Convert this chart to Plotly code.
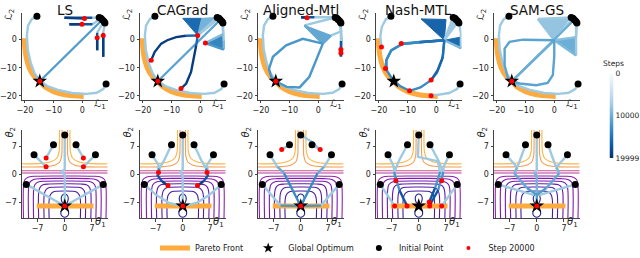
import plotly.graph_objects as go
from plotly.colors import sample_colorscale

# ---------------- data ----------------
METHODS = ["LS", "CAGrad", "Aligned-Mtl", "Nash-MTL", "SAM-GS"]
STEP_MAX = 19999
STEP_TICKS = [0, 10000, 19999]
BLUES = ['rgb(247,251,255)', 'rgb(222,235,247)', 'rgb(198,219,239)', 'rgb(158,202,225)',
         'rgb(107,174,214)', 'rgb(66,146,198)', 'rgb(33,113,181)', 'rgb(8,81,156)', 'rgb(8,48,107)']
PLASMA = ['#0d0887', '#46039f', '#7201a8', '#9c179e', '#bd3786', '#d8576b',
          '#ed7953', '#fb9f3a', '#fdca26', '#f0f921']

LOSS_TICKS = [-20, -10, 0]
PARAM_TICKS = [-7, 0, 7]
LOSS_RANGE_X = [-21.0, 8.8]
LOSS_RANGE_Y = [-21.3, 9.5]
PARAM_RANGE = [-11.0, 11.0]

PARETO_L1 = [-20.2, -20.0, -19.5, -18.5, -16.8, -14.8, -13.0, -10.0, -6.5, -3.0, 0.5]
PARETO_L2 = [0.5, -3.0, -6.5, -10.0, -13.0, -14.8, -16.8, -18.5, -19.5, -20.0, -20.2]
PARETO_T1 = [-7.2, 7.4]
PARETO_T2 = [-8.0, -8.0]
OPT_L1, OPT_L2 = [-14.8], [-14.8]
OPT_T1, OPT_T2 = [0.0], [-8.0]
INIT_L1 = [-15.8, 8.3, 5.9, 6.5, 7.0, 7.6, 7.9]
INIT_L2 = [8.3, -15.8, 7.9, 7.6, 7.1, 6.5, 5.9]
INIT_T1 = [0.0, -2.9, 2.9, -7.9, 7.9, -9.9, 9.9]
INIT_T2 = [9.75, 7.3, 7.3, 4.8, 4.8, -2.6, -2.6]

# contour lines of the parameter-space landscape: (theta1 list, theta2 list, level 0..1)
CONTOURS = [
    ([-10.6, -10.6, -10.3, -9.4, -7.0, 0, 7.0, 9.4, 10.3, 10.6, 10.6],
     [-11.5, -3.0, -1.5, -0.8, -0.55, -0.5, -0.55, -0.8, -1.5, -3.0, -11.5], 0.27),
    ([-9.3, -9.3, -9.0, -8.0, -6.0, 0, 6.0, 8.0, 9.0, 9.3, 9.3],
     [-11.5, -3.5, -2.1, -1.4, -1.15, -1.1, -1.15, -1.4, -2.1, -3.5, -11.5], 0.23),
    ([-8.0, -8.0, -7.7, -6.8, -5.0, 0, 5.0, 6.8, 7.7, 8.0, 8.0],
     [-11.5, -4.0, -2.7, -2.0, -1.8, -1.75, -1.8, -2.0, -2.7, -4.0, -11.5], 0.19),
    ([-6.7, -6.7, -6.4, -5.6, -4.0, 0, 4.0, 5.6, 6.4, 6.7, 6.7],
     [-11.5, -4.6, -3.4, -2.7, -2.5, -2.45, -2.5, -2.7, -3.4, -4.6, -11.5], 0.15),
    ([-5.3, -5.3, -5.0, -4.3, -3.0, 0, 3.0, 4.3, 5.0, 5.3, 5.3],
     [-11.5, -5.3, -4.2, -3.5, -3.3, -3.25, -3.3, -3.5, -4.2, -5.3, -11.5], 0.11),
    ([-4.0, -4.0, -3.7, -3.0, -2.0, 0, 2.0, 3.0, 3.7, 4.0, 4.0],
     [-11.5, -6.3, -5.2, -4.5, -4.3, -4.25, -4.3, -4.5, -5.2, -6.3, -11.5], 0.07),
    ([0, 0.7, 0.9, 0.6, 0, -0.6, -0.9, -0.7, 0, 0.8, 1.0, 0.6, 0, -0.6, -1.0, -0.8, 0],
     [-8, -7.0, -6.0, -5.3, -5.0, -5.3, -6.0, -7.0, -8, -9.0, -10.0, -10.6, -10.8, -10.6, -10.0, -9.0, -8], 0.0),
    ([-11.5, 11.5], [0.25, 0.25], 0.38),
    ([-11.5, 11.5], [0.8, 0.8], 0.48),
    ([-11.5, -5.0, -2.6, -1.3, -0.8, -0.7, -0.7], [1.75, 1.85, 2.2, 3.0, 4.5, 6.5, 11.5], 0.74),
    ([-11.5, -6.0, -3.4, -2.0, -1.45, -1.35, -1.35], [2.55, 2.65, 3.1, 4.0, 5.6, 7.5, 11.5], 0.82),
    ([11.5, 5.0, 2.6, 1.3, 0.8, 0.7, 0.7], [1.75, 1.85, 2.2, 3.0, 4.5, 6.5, 11.5], 0.74),
    ([11.5, 6.0, 3.4, 2.0, 1.45, 1.35, 1.35], [2.55, 2.65, 3.1, 4.0, 5.6, 7.5, 11.5], 0.82),
]

# trajectories: lists of (x, y, step)
ARC_TOPLEFT = [(-15.8, 8.3, 7500), (-17.6, 7.3, 7500), (-18.9, 5.0, 7500), (-19.3, 1.5, 7500),
               (-19.0, -3.5, 7500), (-17.9, -8.5, 7500), (-16.5, -12.2, 8000), (-14.8, -14.8, 8000)]
ARC_BOTTOMRIGHT = [(8.3, -15.8, 7500), (7.3, -17.6, 7500), (5.0, -18.9, 7500), (1.5, -19.3, 7500),
                   (-3.5, -19.0, 7500), (-8.5, -17.9, 7500), (-12.2, -16.5, 8000), (-14.8, -14.8, 8000)]

LS_LOSS_TRAJ = [
    ARC_TOPLEFT, ARC_BOTTOMRIGHT,
    [(7.0, 7.1, 11500), (-14.8, -14.8, 11500)],
    [(5.9, 7.9, 7500), (3.5, 7.8, 17000), (-6.2, 7.8, 19000), (0.8, 7.5, 19999)],
    [(6.5, 7.6, 7500), (3.6, 5.5, 17000), (-4.5, 5.5, 19000), (-0.1, 5.5, 19999)],
    [(7.6, 6.5, 7500), (5.2, 2.5, 17000), (5.2, -3.8, 19000), (5.2, 0.7, 19999)],
    [(7.9, 5.9, 7500), (7.3, 2.5, 17000), (7.3, -6.1, 19000), (7.3, 1.5, 19999)],
]
LS_LOSS_FANS = []
LS_LOSS_RED_L1 = [0.8, -0.1, 5.2, 7.3, -14.8]
LS_LOSS_RED_L2 = [7.5, 5.5, 0.7, 1.5, -14.8]
LS_PARAM_TRAJ = [
    [(0.0, 9.75, 7500), (0.0, 1.2, 7500), (-0.9, 0.5, 7500), (0.0, -0.2, 7500), (0.0, -8.0, 7500)],
    [(-2.9, 7.3, 7500), (-4.8, 4.0, 7500)],
    [(2.9, 7.3, 7500), (4.8, 4.0, 7500)],
    [(-7.9, 4.8, 7500), (-4.8, 1.8, 7500)],
    [(7.9, 4.8, 7500), (4.8, 1.8, 7500)],
    [(-9.9, -2.6, 7500), (0.0, -8.0, 7500)],
    [(9.9, -2.6, 7500), (0.0, -8.0, 7500)],
]
LS_PARAM_RED_T1 = [-4.8, 4.8, -4.8, 4.8, 0.0]
LS_PARAM_RED_T2 = [4.0, 4.0, 1.8, 1.8, -8.0]

CAGRAD_LOSS_TRAJ = [
    ARC_TOPLEFT, ARC_BOTTOMRIGHT,
    [(7.0, 7.1, 11000), (-14.8, -14.8, 11000)],
    [(5.9, 7.9, 7500), (-0.9, 1.5, 15500), (-5.0, 1.4, 19000), (-8.4, 0.9, 19000), (-11.5, -0.2, 19000),
     (-13.6, -1.4, 19000), (-15.9, -4.4, 19000), (-17.1, -7.3, 19999)],
    [(6.5, 7.6, 7500), (-0.9, 1.5, 15500), (-1.4, -2.0, 19000), (-2.0, -5.0, 19000), (-3.2, -11.5, 19000),
     (-4.9, -15.6, 19000), (-6.7, -17.4, 19999)],
    [(7.6, 6.5, 7500), (8.0, 2.0, 9000), (1.8, -1.2, 15500)],
    [(7.9, 5.9, 7500), (8.2, -0.5, 9000), (8.2, -3.5, 12000), (1.8, -1.2, 15500)],
]
CAGRAD_LOSS_FANS = [
    ([-6.1, 0.5, -0.9], [7.6, 7.6, 1.5], 15500),
    ([0.5, 6.0, -0.9], [7.6, 7.9, 1.5], 9500),
    ([1.8, 7.9, 7.9], [-1.2, 1.5, -3.5], 13500),
]
CAGRAD_LOSS_RED_L1 = [-0.9, 1.8, -17.1, -6.7, -14.8]
CAGRAD_LOSS_RED_L2 = [1.5, -1.2, -7.3, -17.4, -14.8]
CAGRAD_PARAM_TRAJ = [
    [(0.0, 9.75, 7500), (0.0, 1.2, 7500), (-0.7, 0.4, 7500), (0.0, -0.3, 7500), (0.0, -8.0, 7500)],
    [(-2.9, 7.3, 7500), (-4.8, 3.4, 7500), (-6.0, 1.4, 13000), (-6.25, 0.4, 19000)],
    [(2.9, 7.3, 7500), (4.8, 3.4, 7500), (6.0, 1.4, 13000), (6.25, 0.4, 19000)],
    [(-7.9, 4.8, 7500), (-6.2, 2.2, 7500), (-6.6, -0.2, 17000), (-5.3, -1.9, 19000), (-3.8, -2.9, 19999)],
    [(7.9, 4.8, 7500), (6.2, 2.2, 7500), (6.6, -0.2, 17000), (5.3, -1.9, 19000), (3.8, -2.9, 19999)],
    [(-9.9, -2.6, 7500), (-6.9, -5.2, 7500), (-3.6, -7.2, 7500), (0.0, -8.0, 7500)],
    [(9.9, -2.6, 7500), (6.9, -5.2, 7500), (3.6, -7.2, 7500), (0.0, -8.0, 7500)],
]
CAGRAD_PARAM_RED_T1 = [-6.25, 6.25, -3.8, 3.8, 0.0]
CAGRAD_PARAM_RED_T2 = [0.4, 0.4, -2.9, -2.9, -8.0]

ALIGNED_LOSS_TRAJ = [
    ARC_TOPLEFT, ARC_BOTTOMRIGHT,
    [(6.5, 7.6, 7500), (5.0, 8.0, 7500), (-1.3, 8.0, 17000), (-6.0, 8.0, 19000), (-3.9, 7.8, 19999)],
    [(7.9, 5.9, 7500), (7.9, -0.5, 17000), (7.9, -6.0, 19000), (7.9, -3.5, 19999)],
    [(7.6, 6.5, 7500), (8.2, 0.5, 7500), (8.2, -5.0, 17000), (7.9, -4.7, 19999)],
    [(5.9, 7.9, 7500), (-4.8, 5.1, 10500), (1.6, -1.4, 12000), (-5.4, 0.3, 12000), (-11.2, -2.0, 12000),
     (-15.8, -6.1, 12000), (-17.2, -10.5, 12000), (-16.3, -13.5, 12000), (-14.8, -14.8, 12000)],
    [(7.0, 7.1, 7500), (8.0, 3.0, 7500), (4.5, 1.5, 10500), (1.6, -1.4, 12000), (-0.2, -6.1, 12000),
     (-3.1, -13.2, 12000), (-6.5, -17.0, 12000), (-11.0, -16.8, 12000), (-14.8, -14.8, 12000)],
]
ALIGNED_LOSS_FANS = [([-4.8, 4.5, 1.6], [5.1, 1.5, -1.4], 10500)]
ALIGNED_LOSS_RED_L1 = [-3.9, 7.9, 7.9, -14.8]
ALIGNED_LOSS_RED_L2 = [7.8, -3.5, -4.7, -14.8]
ALIGNED_PARAM_TRAJ = [
    [(0.0, 9.75, 7500), (2.6, 8.2, 7500), (5.0, 6.1, 7500)],
    [(-2.9, 7.3, 7500), (-4.9, 6.1, 7500)],
    [(2.9, 7.3, 7500), (5.0, 6.1, 7500)],
    [(-7.9, 4.8, 7500), (-6.0, 1.8, 10000), (-4.3, 0.2, 13000), (0.0, -8.0, 13000)],
    [(7.9, 4.8, 7500), (6.0, 1.8, 10000), (4.3, 0.2, 13000), (0.0, -8.0, 13000)],
    [(-9.9, -2.6, 7500), (-5.2, -7.9, 12000), (0.0, -8.0, 12000)],
    [(9.9, -2.6, 7500), (5.2, -7.9, 12000), (0.0, -8.0, 12000)],
]
ALIGNED_PARAM_RED_T1 = [-4.9, 5.0, 0.0]
ALIGNED_PARAM_RED_T2 = [6.1, 6.1, -8.0]

NASH_LOSS_TRAJ = [
    [(-15.8, 8.3, 7500), (-17.6, 7.2, 7500), (-19.0, 4.5, 7500), (-19.5, 1.0, 7500), (-19.1, -2.6, 7500)],
    [(8.3, -15.8, 7500), (7.2, -17.6, 7500), (4.5, -19.0, 7500), (1.0, -19.5, 7500), (-1.8, -20.0, 7500)],
    [(7.9, 5.9, 7500), (8.6, 2.5, 7500), (8.6, -3.0, 9000), (2.8, -0.2, 13000), (2.3, -6.1, 16000),
     (0.5, -10.9, 16000), (-1.8, -14.4, 16000)],
    [(7.6, 6.5, 7500), (2.8, -0.2, 15000), (2.2, -6.6, 13000), (0.2, -11.8, 13000), (-1.8, -14.4, 13000),
     (-5.5, -17.0, 13000), (-9.3, -18.2, 13000)],
    [(5.9, 7.9, 7500), (2.8, -0.2, 15000), (-5.8, -0.8, 13000), (-12.2, -1.4, 13000)],
    [(6.5, 7.6, 7500), (2.8, -0.2, 15000), (-5.8, -0.9, 13000), (-12.0, -1.6, 13000), (-15.7, -3.8, 13000),
     (-17.4, -7.3, 13000), (-17.7, -10.3, 13000)],
    [(7.0, 7.1, 7500), (2.8, -0.2, 15000), (-5.8, -0.9, 13000), (-12.0, -1.6, 13000), (-15.7, -3.8, 13000),
     (-17.4, -7.3, 13000), (-17.2, -11.0, 13000), (-15.2, -14.2, 13000), (-12.5, -16.6, 13000), (-9.3, -18.2, 13000)],
]
NASH_LOSS_FANS = [
    ([-5.3, 3.4, 2.8], [7.4, 7.2, -0.2], 16000),
    ([2.8, 8.4, 8.6], [-0.2, 0.9, -3.2], 15500),
]
NASH_LOSS_RED_L1 = [-19.1, -1.8, -12.2, -17.7, -1.8, -9.3]
NASH_LOSS_RED_L2 = [-2.6, -20.0, -1.4, -10.3, -14.4, -18.2]
NASH_PARAM_TRAJ = [
    [(0.0, 9.75, 7500), (-0.2, 4.3, 7500), (4.9, 3.2, 7500), (5.5, 0.5, 12000), (4.2, -3.5, 17000), (2.7, -7.0, 19000)],
    [(-2.9, 7.3, 7500), (-5.0, 3.5, 7500), (-6.3, 0.5, 12000), (-5.9, -1.7, 15000)],
    [(2.9, 7.3, 7500), (5.0, 3.5, 7500), (6.3, 0.5, 12000), (5.9, -1.7, 15000)],
    [(-7.9, 4.8, 7500), (-6.5, 2.0, 7500), (-6.0, -0.5, 12000), (-5.0, -4.0, 17000), (-3.5, -7.0, 19000), (-3.0, -8.0, 19000)],
    [(7.9, 4.8, 7500), (6.5, 2.0, 7500), (6.0, -0.5, 12000), (5.0, -4.0, 17000), (3.3, -7.0, 19000), (2.8, -8.0, 19000)],
    [(-9.9, -2.6, 7500), (-6.2, -8.0, 7500)],
    [(9.9, -2.6, 7500), (5.9, -8.0, 7500)],
]
NASH_PARAM_RED_T1 = [-5.9, 5.9, -6.2, -3.0, 2.8, 5.9, 2.7]
NASH_PARAM_RED_T2 = [-1.7, -1.7, -8.0, -8.0, -8.0, -8.0, -7.0]

SAM_LOSS_TRAJ = [
    ARC_TOPLEFT, ARC_BOTTOMRIGHT,
    [(7.0, 7.1, 10000), (-14.8, -14.8, 10000)],
    [(6.5, 7.6, 7500), (0.0, -0.2, 10000), (-14.8, -14.8, 10000)],
    [(5.9, 7.9, 7500), (-5.7, 7.4, 8000), (0.0, -0.2, 11000), (-10.9, 0.0, 11000), (-15.6, -0.8, 11000),
     (-17.3, -3.2, 11000), (-17.3, -9.1, 11000), (-16.1, -13.8, 11000), (-14.8, -14.8, 11000)],
    [(7.9, 5.9, 7500), (7.6, 0.9, 8500), (0.0, -0.2, 11000), (0.0, -6.1, 11000), (-0.5, -12.6, 11000),
     (-2.3, -15.4, 11000), (-6.3, -16.2, 11000), (-12.1, -15.6, 11000), (-14.8, -14.8, 11000)],
    [(7.6, 6.5, 7500), (7.6, -5.6, 9000), (0.0, -0.2, 10000), (-14.8, -14.8, 10000)],
]
SAM_LOSS_FANS = [
    ([-5.7, 5.3, 0.0], [7.4, 7.4, -0.2], 8000),
    ([0.0, 7.6, 7.6], [-0.2, 0.9, -5.6], 10000),
]
SAM_LOSS_RED_L1 = [-14.8]
SAM_LOSS_RED_L2 = [-14.8]
SAM_PARAM_TRAJ = [
    [(0.0, 9.75, 7500), (0.0, 1.0, 7500), (-0.7, 0.3, 9500), (0.0, -0.4, 9500), (0.0, -5.2, 11500), (0.0, -8.0, 12000)],
    [(-2.9, 7.3, 7500), (-4.6, 2.7, 7500), (-5.8, 0.2, 10500), (-2.5, -3.5, 11500), (0.0, -5.2, 12000)],
    [(2.9, 7.3, 7500), (4.6, 2.7, 7500), (5.8, 0.2, 10500), (2.5, -3.5, 11500), (0.0, -5.2, 12000)],
    [(-7.9, 4.8, 7500), (-5.0, 1.6, 9000), (-5.8, 0.2, 10500)],
    [(7.9, 4.8, 7500), (5.0, 1.6, 9000), (5.8, 0.2, 10500)],
    [(-9.9, -2.6, 7500), (-0.6, -5.3, 9000)],
    [(9.9, -2.6, 7500), (0.6, -5.3, 9000)],
]
SAM_PARAM_RED_T1 = [0.0]
SAM_PARAM_RED_T2 = [-8.0]

LOSS_TRAJ = [LS_LOSS_TRAJ, CAGRAD_LOSS_TRAJ, ALIGNED_LOSS_TRAJ, NASH_LOSS_TRAJ, SAM_LOSS_TRAJ]
LOSS_FANS = [LS_LOSS_FANS, CAGRAD_LOSS_FANS, ALIGNED_LOSS_FANS, NASH_LOSS_FANS, SAM_LOSS_FANS]
LOSS_RED = [(LS_LOSS_RED_L1, LS_LOSS_RED_L2), (CAGRAD_LOSS_RED_L1, CAGRAD_LOSS_RED_L2),
            (ALIGNED_LOSS_RED_L1, ALIGNED_LOSS_RED_L2), (NASH_LOSS_RED_L1, NASH_LOSS_RED_L2),
            (SAM_LOSS_RED_L1, SAM_LOSS_RED_L2)]
PARAM_TRAJ = [LS_PARAM_TRAJ, CAGRAD_PARAM_TRAJ, ALIGNED_PARAM_TRAJ, NASH_PARAM_TRAJ, SAM_PARAM_TRAJ]
PARAM_RED = [(LS_PARAM_RED_T1, LS_PARAM_RED_T2), (CAGRAD_PARAM_RED_T1, CAGRAD_PARAM_RED_T2),
             (ALIGNED_PARAM_RED_T1, ALIGNED_PARAM_RED_T2), (NASH_PARAM_RED_T1, NASH_PARAM_RED_T2),
             (SAM_PARAM_RED_T1, SAM_PARAM_RED_T2)]

# ---------------- style / layout ----------------
W, H = 640, 258
FONT = "DejaVu Sans"
ORANGE = '#fdaa3f'
AXC = '#444444'
COLS_PX = [(22, 107.5), (140, 225.5), (258, 343.5), (376, 461.5), (494, 579.5)]
ROWS_PX = [(13, 99.5), (130, 218)]


def step_color(s):
    return sample_colorscale(BLUES, [s / STEP_MAX])[0]


def level_color(v):
    return sample_colorscale(PLASMA, [v])[0]


def ref(n, kind):
    return kind if n == 1 else f"{kind}{n}"


fig = go.Figure()


def add_traj(trajs, xa, ya):
    runs = {}
    for tr in trajs:
        i = 0
        while i < len(tr) - 1:
            s = tr[i][2]
            xs, ys = [tr[i][0]], [tr[i][1]]
            j = i
            while j < len(tr) - 1 and tr[j][2] == s:
                xs.append(tr[j + 1][0]); ys.append(tr[j + 1][1]); j += 1
            g = runs.setdefault(s, ([], []))
            g[0].extend(xs + [None]); g[1].extend(ys + [None])
            i = j
    for s in sorted(runs):
        xs, ys = runs[s]
        fig.add_trace(go.Scatter(x=xs, y=ys, mode='lines', xaxis=xa, yaxis=ya,
                                 line=dict(color=step_color(s), width=2.4),
                                 hoverinfo='skip', showlegend=False))


def add_markers(xs, ys, xa, ya, symbol, size, color):
    fig.add_trace(go.Scatter(x=xs, y=ys, mode='markers', xaxis=xa, yaxis=ya,
                             marker=dict(symbol=symbol, size=size, color=color, line=dict(width=0)),
                             hoverinfo='skip', showlegend=False, cliponaxis=False))


layout = dict(width=W, height=H, margin=dict(l=0, r=0, t=0, b=0, autoexpand=False),
              paper_bgcolor='white', plot_bgcolor='white',
              font=dict(family=FONT, size=9, color='#222'), annotations=[])

for r in range(2):
    for c in range(5):
        n = r * 5 + c + 1
        xa, ya = ref(n, 'x'), ref(n, 'y')
        x0, x1 = COLS_PX[c]
        yt, yb = ROWS_PX[r]
        ax_common = dict(showgrid=False, zeroline=False, showline=True, linecolor=AXC, linewidth=1,
                         ticks='outside', ticklen=2.5, tickwidth=1, tickcolor=AXC,
                         tickfont=dict(size=8, family=FONT, color='#222'), fixedrange=True)
        if r == 0:
            xr, yr, xt, yt_ = LOSS_RANGE_X, LOSS_RANGE_Y, LOSS_TICKS, LOSS_TICKS
        else:
            xr, yr, xt, yt_ = PARAM_RANGE, PARAM_RANGE, PARAM_TICKS, PARAM_TICKS
        layout['xaxis' if n == 1 else f'xaxis{n}'] = dict(ax_common, domain=[x0 / W, x1 / W], range=xr,
                                                          tickvals=xt, anchor=ya)
        layout['yaxis' if n == 1 else f'yaxis{n}'] = dict(ax_common, domain=[1 - yb / H, 1 - yt / H], range=yr,
                                                          tickvals=yt_, anchor=xa)
        wpx = x1 - x0
        hpx = yb - yt
        xlab = "ℒ<sub>1</sub>" if r == 0 else "<i>θ</i><sub>1</sub>"
        ylab = "ℒ<sub>2</sub>" if r == 0 else "<i>θ</i><sub>2</sub>"
        layout['annotations'].append(dict(text=xlab, xref=f'{xa} domain', yref=f'{ya} domain',
                                          x=1.0, y=-4.5 / hpx, xanchor='right', yanchor='middle',
                                          showarrow=False, font=dict(size=10, family=FONT, color='#222')))
        layout['annotations'].append(dict(text=ylab, xref=f'{xa} domain', yref=f'{ya} domain',
                                          x=-12.5 / wpx, y=1 - 2.0 / hpx, xanchor='center', yanchor='middle',
                                          textangle=-90, showarrow=False,
                                          font=dict(size=10, family=FONT, color='#222')))
        if r == 0:
            layout['annotations'].append(dict(text=METHODS[c], xref=f'{xa} domain', yref='paper',
                                              x=0.5, y=1 - 10.5 / H, xanchor='center', yanchor='middle',
                                              showarrow=False, font=dict(size=13.5, family=FONT, color='#111')))

        if r == 0:
            fig.add_trace(go.Scatter(x=PARETO_L1, y=PARETO_L2, mode='lines', xaxis=xa, yaxis=ya,
                                     line=dict(color=ORANGE, width=5, shape='spline'),
                                     hoverinfo='skip', showlegend=False))
            for fx, fy, s in LOSS_FANS[c]:
                fig.add_trace(go.Scatter(x=fx + [fx[0]], y=fy + [fy[0]], mode='lines', fill='toself',
                                         fillcolor=step_color(s), xaxis=xa, yaxis=ya,
                                         line=dict(color=step_color(s), width=1),
                                         hoverinfo='skip', showlegend=False))
            add_traj(LOSS_TRAJ[c], xa, ya)
            add_markers(INIT_L1, INIT_L2, xa, ya, 'circle', 7, 'black')
            add_markers(OPT_L1, OPT_L2, xa, ya, 'star', 11, 'black')
            add_markers(LOSS_RED[c][0], LOSS_RED[c][1], xa, ya, 'circle', 5, 'red')
        else:
            for cx, cy, lv in CONTOURS:
                fig.add_trace(go.Scatter(x=cx, y=cy, mode='lines', xaxis=xa, yaxis=ya,
                                         line=dict(color=level_color(lv), width=1.1, shape='spline'),
                                         opacity=0.9, hoverinfo='skip', showlegend=False))
            fig.add_trace(go.Scatter(x=PARETO_T1, y=PARETO_T2, mode='lines', xaxis=xa, yaxis=ya,
                                     line=dict(color=ORANGE, width=5), hoverinfo='skip', showlegend=False))
            add_traj(PARAM_TRAJ[c], xa, ya)
            add_markers(INIT_T1, INIT_T2, xa, ya, 'circle', 7, 'black')
            add_markers(OPT_T1, OPT_T2, xa, ya, 'star', 11, 'black')
            add_markers(PARAM_RED[c][0], PARAM_RED[c][1], xa, ya, 'circle', 5, 'red')

# colour bar (steps) drawn as a small heatmap axis, 0 on top
fig.add_trace(go.Heatmap(z=[[0, 0], [STEP_MAX, STEP_MAX]], x=[0, 1], y=[0, STEP_MAX],
                         colorscale=[[i / (len(BLUES) - 1), col] for i, col in enumerate(BLUES)],
                         zmin=0, zmax=STEP_MAX, zsmooth='best', showscale=False,
                         xaxis='x11', yaxis='y11', hoverinfo='skip'))
layout['xaxis11'] = dict(domain=[609.5 / W, 613.5 / W], range=[0, 1], visible=False, anchor='y11', fixedrange=True)
layout['yaxis11'] = dict(domain=[1 - 158 / H, 1 - 73 / H], range=[STEP_MAX, 0], anchor='x11', side='right',
                         tickvals=STEP_TICKS, tickformat='d', ticks='', showline=False, showgrid=False,
                         zeroline=False, ticklabelstandoff=1,
                         tickfont=dict(size=7.5, family=FONT, color='#222'), fixedrange=True)
layout['annotations'].append(dict(text="Steps", xref='paper', yref='paper', x=613 / W, y=1 - 63 / H,
                                  xanchor='center', yanchor='middle', showarrow=False,
                                  font=dict(size=7.5, family=FONT, color='#222')))

# legend entries
fig.add_trace(go.Scatter(x=[None], y=[None], mode='lines', name='Pareto Front',
                         line=dict(color=ORANGE, width=5)))
fig.add_trace(go.Scatter(x=[None], y=[None], mode='markers', name='Global Optimum',
                         marker=dict(symbol='star', size=8, color='black')))
fig.add_trace(go.Scatter(x=[None], y=[None], mode='markers', name='Initial Point',
                         marker=dict(symbol='circle', size=6, color='black')))
fig.add_trace(go.Scatter(x=[None], y=[None], mode='markers', name='Step 20000',
                         marker=dict(symbol='circle', size=4, color='red')))

layout['showlegend'] = True
layout['legend'] = dict(orientation='h', x=155 / W, y=1 - 248 / H, xanchor='left', yanchor='middle',
                        font=dict(size=8, family=FONT, color='#222'), bgcolor='rgba(0,0,0,0)',
                        itemwidth=30, tracegroupgap=0)

fig.update_layout(**layout)
fig.write_html("out.html", config={'displayModeBar': False},
               post_script="document.body.style.margin='0';")
